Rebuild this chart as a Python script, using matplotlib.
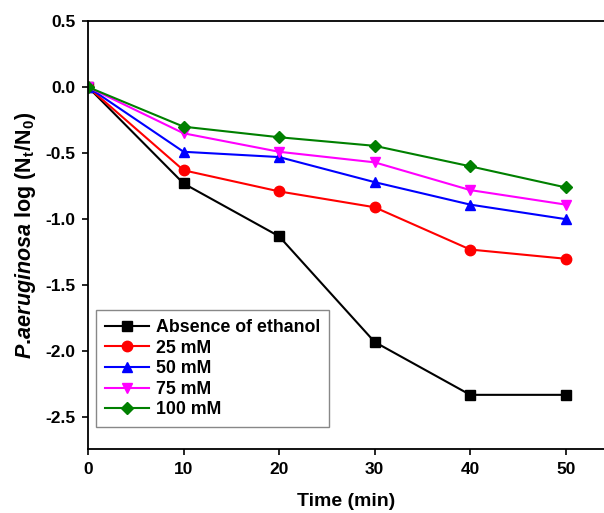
import matplotlib
matplotlib.use("Agg")
import matplotlib.pyplot as plt

plt.rcParams["font.family"] = ["Liberation Sans", "DejaVu Sans"]
plt.rcParams["font.weight"] = "bold"
plt.rcParams["mathtext.fontset"] = "custom"
plt.rcParams["mathtext.rm"] = "Liberation Sans:bold"
plt.rcParams["mathtext.it"] = "Liberation Sans:italic:bold"
plt.rcParams["mathtext.bf"] = "Liberation Sans:bold"
plt.rcParams["mathtext.default"] = "regular"

time_min = [0, 10, 20, 30, 40, 50]
no_ethanol = [0, -0.73, -1.13, -1.93, -2.33, -2.33]
mm_25 = [0, -0.63, -0.79, -0.91, -1.23, -1.30]
mm_50 = [0, -0.49, -0.53, -0.72, -0.89, -1.00]
mm_75 = [0, -0.35, -0.49, -0.57, -0.78, -0.89]
mm_100 = [0, -0.30, -0.38, -0.445, -0.60, -0.76]

series = [
    ("Absence of ethanol", no_ethanol, "black", "s"),
    ("25 mM", mm_25, "#ff0000", "o"),
    ("50 mM", mm_50, "#0000ff", "^"),
    ("75 mM", mm_75, "#ff00ff", "v"),
    ("100 mM", mm_100, "#008000", "D"),
]

fig = plt.figure(figsize=(6.04, 5.13), dpi=100)
ax = fig.add_axes([88 / 604, 64 / 513, 1 - 88 / 604, 428 / 513])

for label, vals, color, marker in series:
    ms = 6.5 if marker == "D" else 7.5
    ax.plot(time_min, vals, color=color, marker=marker, markersize=ms,
            linewidth=1.5, label=label)

ax.set_xlim(0, 54)
ax.set_ylim(-2.74, 0.5)
ax.set_xticks([0, 10, 20, 30, 40, 50])
ax.set_yticks([-2.5, -2.0, -1.5, -1.0, -0.5, 0.0, 0.5])
ax.set_yticklabels(["-2.5", "-2.0", "-1.5", "-1.0", "-0.5", "0.0", "0.5"])
ax.tick_params(direction="out", length=4, width=1.2, labelsize=12.5, pad=5)
ax.tick_params(top=False, right=False)
for s in ["left", "bottom", "top"]:
    ax.spines[s].set_linewidth(1.3)
ax.spines["right"].set_visible(False)

ax.set_xlabel("Time (min)", fontsize=14, fontweight="bold", labelpad=12)
ax.set_ylabel(r"$\mathit{P.\!aeruginosa}$ log (N$_t$/N$_0$)", fontsize=15.5,
              fontweight="bold", labelpad=5)

leg = ax.legend(loc="lower left", bbox_to_anchor=(0.0155, 0.051),
                borderaxespad=0, fontsize=12.8, fancybox=False,
                edgecolor="#888888", handlelength=2.5, handletextpad=0.35,
                labelspacing=0.2, borderpad=0.5, framealpha=1)
leg.get_frame().set_linewidth(1.0)

fig.savefig("out.png", dpi=100)
